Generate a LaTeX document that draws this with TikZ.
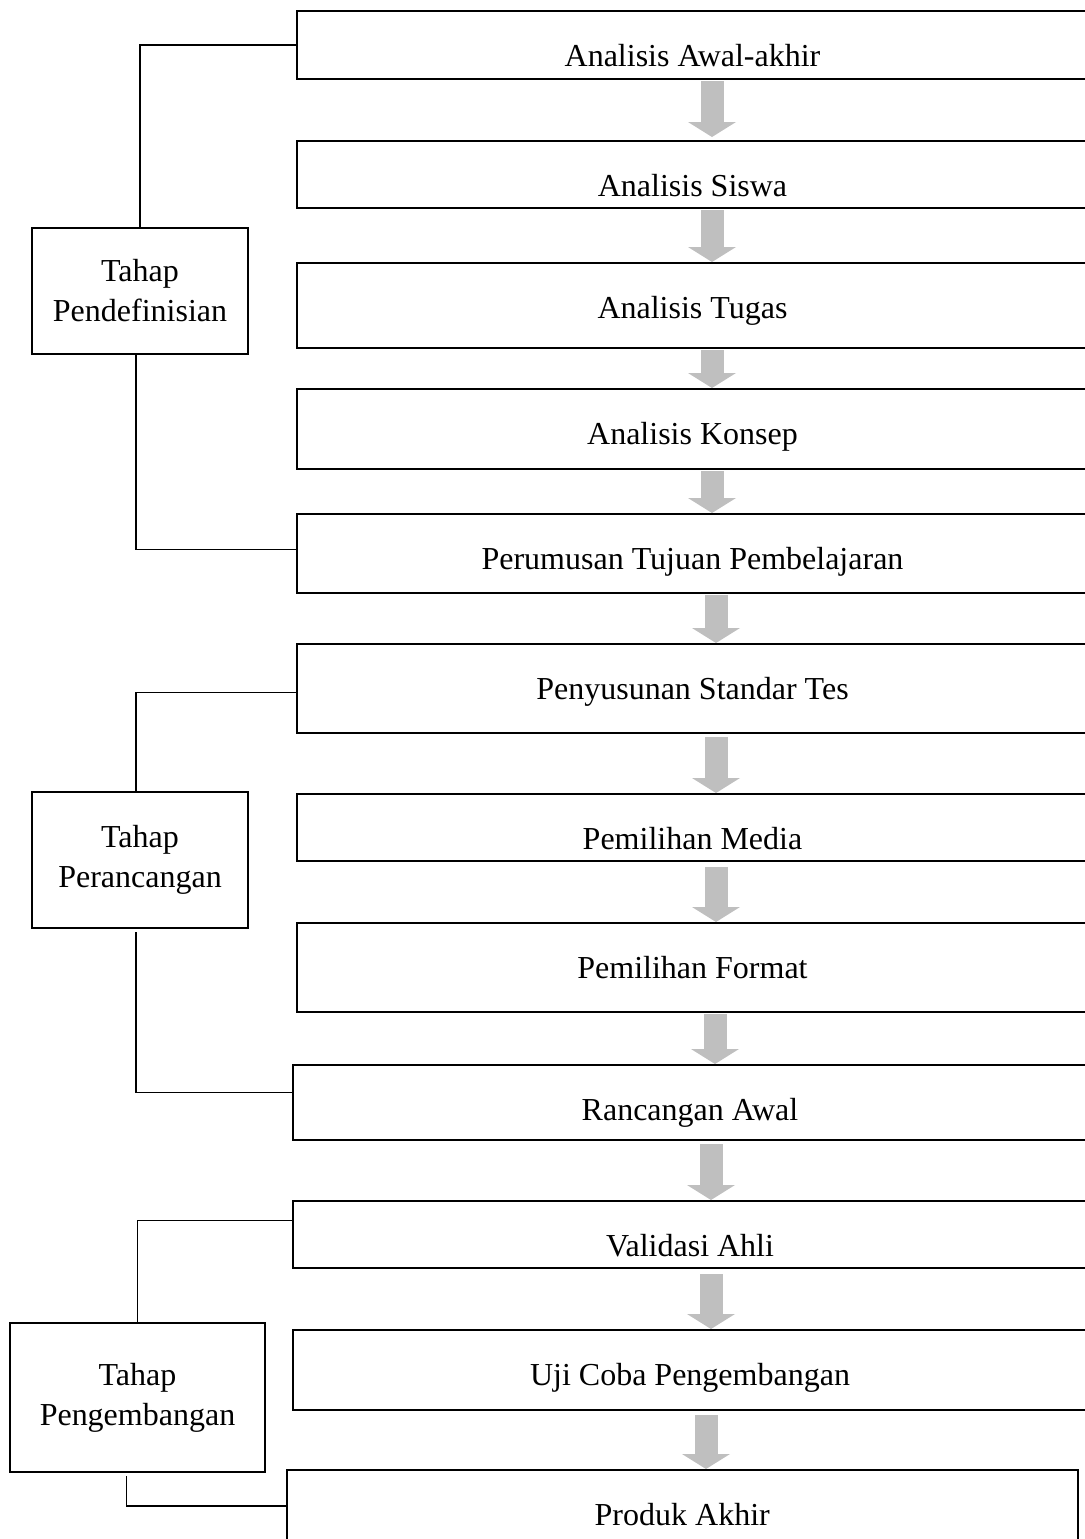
\documentclass[tikz,border=0pt]{standalone}
\usepackage{fontspec}
\setmainfont{Liberation Serif}
\usepackage{tikz}
\usetikzlibrary{arrows.meta,calc}
\definecolor{arrowgray}{RGB}{191,191,191}

\tikzset{
  stepbox/.style={draw, line width=1pt, rectangle, anchor=north west, inner sep=0pt, text height=27.5pt, minimum width=395.5pt, font=\fontsize{16}{20}\selectfont},
  stagebox/.style={draw, line width=1pt, rectangle, align=center, inner sep=0pt, font=\fontsize{16}{20}\selectfont},
  conn/.style={line width=0.75pt},
  flow/.style={arrowgray, line width=11.5pt, -{Triangle[width=24pt,length=7.5pt,line width=0pt]}}
}

\begin{document}
\begin{tikzpicture}[x=0.5pt,y=0.5pt,yscale=-1]
\useasboundingbox (0,0) rectangle (1084,1539);

%Shape: Rectangle [steps]
\node[stepbox, text depth=6.5pt] (awal) at (296,10) {Analisis Awal-akhir};
\node[stepbox, text depth=6pt] (siswa) at (296,140) {Analisis Siswa};
\node[stepbox, text depth=15pt] (tugas) at (296,262) {Analisis Tugas};
\node[stepbox, text depth=12.5pt] (konsep) at (296,388) {Analisis Konsep};
\node[stepbox, text depth=12pt] (tujuan) at (296,513) {Perumusan Tujuan Pembelajaran};
\node[stepbox, text depth=17pt] (tes) at (296,643) {Penyusunan Standar Tes};
\node[stepbox, text depth=6pt] (media) at (296,793) {Pemilihan Media};
\node[stepbox, text depth=17pt] (format) at (296,922) {Pemilihan Format};
\node[stepbox, text depth=10pt, minimum width=397pt] (rancangan) at (292,1064) {Rancangan Awal};
\node[stepbox, text depth=6pt, minimum width=397pt] (validasi) at (292,1200) {Validasi Ahli};
\node[stepbox, text depth=12.5pt, minimum width=397pt] (ujicoba) at (292,1329) {Uji Coba Pengembangan};
\node[stepbox, text depth=12.5pt, minimum width=395.75pt] (produk) at (285.5,1469) {Produk Akhir};

%Shape: Rectangle [stages]
\node[stagebox, minimum width=108pt, minimum height=63pt] (tdefinisi) at (140,291) {Tahap\\Pendefinisian};
\node[stagebox, minimum width=108pt, minimum height=68pt] (trancang) at (140,860) {Tahap\\Perancangan};
\node[stagebox, minimum width=127.5pt, minimum height=74.5pt] (tkembang) at (137.5,1397.5) {Tahap\\Pengembangan};

%Straight Lines [brackets]
\draw[conn] (tdefinisi.north) |- (awal.west);
\draw[conn] ($(tdefinisi.south)+(-4,0)$) |- ($(tujuan.west)+(0,-4)$);
\draw[conn] ($(trancang.north)+(-4,0)$) |- ($(tes.west)+(0,4)$);
\draw[conn] ($(trancang.south)+(-4,3)$) |- ($(rancangan.west)+(0,-10)$);
\draw[conn] (tkembang.north) |- ($(validasi.west)+(0,-14)$);
\draw[conn] ($(tkembang.south)+(-11,3)$) |- ($(produk.west)+(0,-4)$);

%Block Arrows
\draw[flow] ($(awal.south)+(19.5,1)$) -- ($(siswa.north)+(19.5,-3)$);
\draw[flow] ($(siswa.south)+(19.5,1)$) -- ($(tugas.north)+(19.5,0)$);
\draw[flow] ($(tugas.south)+(19.5,1)$) -- ($(konsep.north)+(19.5,0)$);
\draw[flow] ($(konsep.south)+(19.5,1)$) -- ($(tujuan.north)+(19.5,0)$);
\draw[flow] ($(tujuan.south)+(23.5,1)$) -- ($(tes.north)+(23.5,0)$);
\draw[flow] ($(tes.south)+(23.5,3)$) -- ($(media.north)+(23.5,0)$);
\draw[flow] ($(media.south)+(23.5,5)$) -- ($(format.north)+(23.5,0)$);
\draw[flow] ($(format.south)+(22.5,1)$) -- ($(rancangan.north)+(25,0)$);
\draw[flow] ($(rancangan.south)+(21,3)$) -- ($(validasi.north)+(21,0)$);
\draw[flow] ($(validasi.south)+(21,5)$) -- ($(ujicoba.north)+(21,0)$);
\draw[flow] ($(ujicoba.south)+(16,4)$) -- ($(produk.north)+(23.75,0)$);
\end{tikzpicture}
\end{document}
